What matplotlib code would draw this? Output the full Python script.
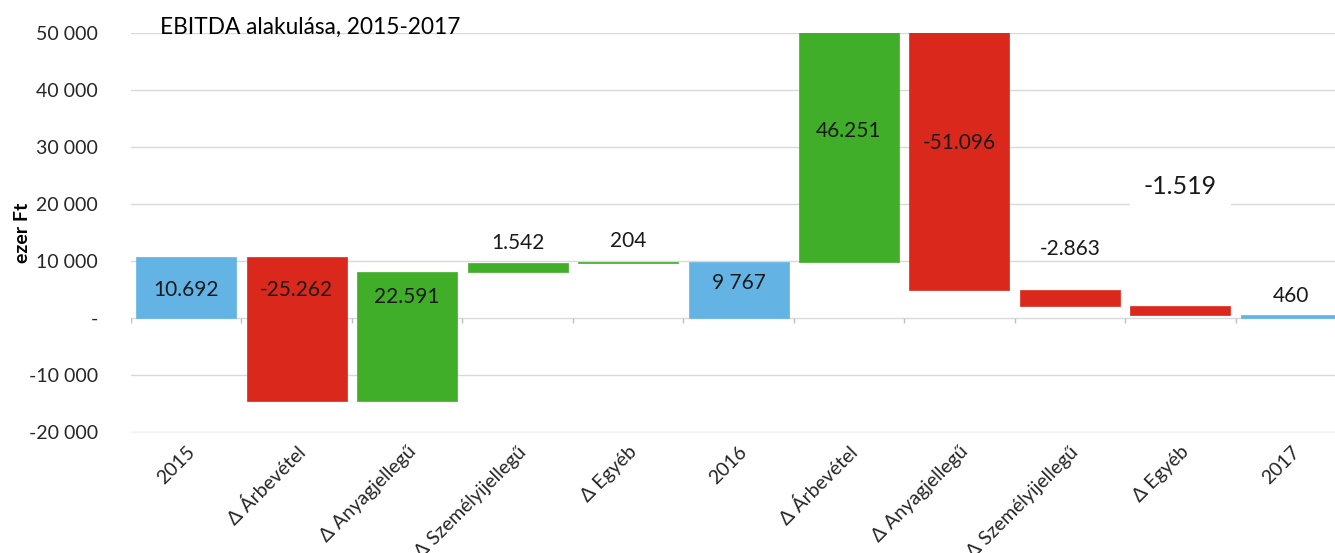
import matplotlib
matplotlib.use("Agg")
import matplotlib.pyplot as plt
from matplotlib.ticker import FuncFormatter

plt.rcParams['font.family'] = ['Lato', 'DejaVu Sans']

# data
categories = ['2015', 'Δ Árbevétel', 'Δ Anyagjellegű', 'Δ Személyijellegű', 'Δ Egyéb',
              '2016', 'Δ Árbevétel', 'Δ Anyagjellegű', 'Δ Személyijellegű', 'Δ Egyéb', '2017']
values = [10692, -25262, 22591, 1542, 204, 9767, 46251, -51096, -2863, -1519, 460]
is_total = [True, False, False, False, False, True, False, False, False, False, True]
value_labels = ['10.692', '-25.262', '22.591', '1.542', '204', '9 767',
                '46.251', '-51.096', '-2.863', '-1.519', '460']
# where the value labels sit (data units)
label_y = [4900, 4900, 3700, 13150, 13500, 6100, 32800, 30700, 12100, 23000, 3850]

blue = '#63B4E4'
red = '#DA291C'
green = '#41AE2A'

# waterfall bottoms/heights
bottoms = []
heights = []
colors = []
run = 0
for v, tot in zip(values, is_total):
    if tot:
        bottoms.append(0)
        heights.append(v)
        colors.append(blue)
        run = v
    else:
        bottoms.append(run if v > 0 else run + v)
        heights.append(abs(v))
        colors.append(green if v > 0 else red)
        run = run + v

fig = plt.figure(figsize=(13.35, 5.53), dpi=100)
ax = fig.add_axes([131 / 1335, (553 - 432) / 553, (1335 - 131) / 1335, (432 - 33) / 553])

x = list(range(len(categories)))
ax.bar(x, heights, bottom=bottoms, width=0.905, color=colors, zorder=2,
       edgecolor=colors, linewidth=0.5)

for i, (lab, ly) in enumerate(zip(value_labels, label_y)):
    if i == 9:
        ax.text(i, ly, lab, ha='center', va='center', fontsize=18, color='#1a1a1a', zorder=4,
                bbox=dict(facecolor='white', edgecolor='none', pad=10))
    else:
        ax.text(i, ly, lab, ha='center', va='center', fontsize=15, color='#1a1a1a', zorder=4)

ax.set_ylim(-20000, 50000)
ax.set_xlim(-0.5, 10.4)
ax.set_yticks(range(-20000, 50001, 10000))
ax.yaxis.set_major_formatter(FuncFormatter(
    lambda v, p: '-' if v == 0 else f'{int(v):,}'.replace(',', ' ')))
ax.grid(axis='y', color='#d9d9d9', linewidth=1, zorder=0)
ax.set_axisbelow(True)

# little tick marks on the zero line between categories
ax.vlines([i - 0.5 for i in range(len(categories))], -900, 0, color='#bfbfbf', linewidth=1, zorder=1)

ax.set_xticks(x)
ax.set_xticklabels(categories, rotation=45, ha='right', rotation_mode='anchor')
ax.tick_params(axis='x', length=0, pad=8, labelsize=14, colors='#262626')
ax.tick_params(axis='y', length=0, pad=24, labelsize=14, colors='#262626')

for s in ['top', 'right', 'left']:
    ax.spines[s].set_visible(False)
ax.spines['bottom'].set_color('#f2f2f2')

ax.set_ylabel('ezer Ft', fontsize=14, fontweight='bold')
ax.yaxis.set_label_coords(-0.083, 0.5)

fig.text(160 / 1335, 1 - 27 / 553, 'EBITDA alakulása, 2015-2017', fontsize=16.3, va='center', ha='left',
         color='black')

fig.savefig('out.png', dpi=100)
